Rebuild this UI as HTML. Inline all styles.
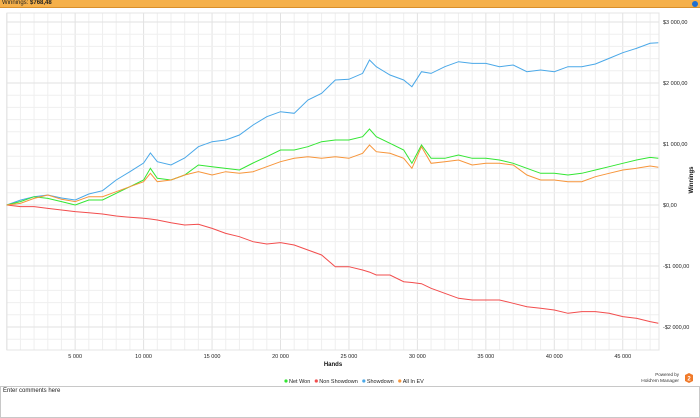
<!DOCTYPE html>
<html><head><meta charset="utf-8">
<style>
html,body{margin:0;padding:0;width:700px;height:418px;overflow:hidden;background:#fff;font-family:"Liberation Sans",sans-serif;}
#hdr{position:absolute;left:0;top:0;width:700px;height:7px;background:#f5b04a;border-bottom:1px solid #d98f2a;}
#hdr span{position:absolute;left:2px;top:0px;font-size:6px;line-height:7px;color:#222;}
#info{position:absolute;right:2px;top:0.5px;width:6px;height:6px;border-radius:50%;background:#1f6fd0;}
#cmt{position:absolute;left:0;top:386px;width:698px;height:30px;border:1px solid #c8c8c8;}
#cmt span{position:absolute;left:2px;top:1px;font-size:6px;color:#222;}
svg text{font-family:"Liberation Sans",sans-serif;}
</style></head><body>
<div id="hdr"><span>Winnings: <b>$768,48</b></span><div id="info"></div></div>
<svg id="chart" width="700" height="386" style="position:absolute;left:0;top:0"></svg>
<div id="cmt"><span>Enter comments here</span></div>
<script>
const hands=[0,1000,2000,3000,4000,5000,6000,7000,8000,9000,10000,10500,11000,12000,13000,14000,15000,16000,17000,18000,19000,20000,21000,22000,23000,24000,25000,26000,26500,27000,28000,29000,29600,30300,31000,32000,33000,34000,35000,36000,37000,38000,39000,40000,41000,42000,43000,44000,45000,46000,47000,47600];
const showdown=[0,80,136,164,115,82,180,234,410,546,688,852,710,656,770,956,1038,1066,1148,1311,1448,1530,1503,1721,1831,2050,2060,2158,2377,2267,2131,2049,1940,2185,2158,2267,2350,2322,2322,2267,2295,2185,2213,2185,2267,2267,2311,2404,2497,2568,2650,2660];
const netWon=[0,55,136,109,55,0,82,82,191,300,410,601,437,410,492,656,628,600,574,688,792,902,902,956,1038,1066,1066,1120,1246,1120,1011,902,683,984,765,765,820,765,765,738,683,601,519,519,492,519,574,628,683,738,781,765];
const allInEV=[0,27,109,164,93,55,136,136,218,300,382,519,382,410,492,546,492,546,519,546,628,710,765,792,765,792,765,847,984,874,847,765,601,956,683,710,738,656,683,683,656,492,410,410,382,382,464,519,574,601,640,618];
const nonShowdown=[0,-27,-27,-55,-82,-109,-126,-148,-180,-202,-218,-230,-246,-290,-328,-317,-383,-465,-519,-601,-639,-617,-656,-738,-820,-1011,-1011,-1066,-1100,-1148,-1148,-1257,-1270,-1290,-1366,-1448,-1530,-1557,-1557,-1557,-1612,-1667,-1694,-1721,-1776,-1748,-1748,-1776,-1830,-1858,-1912,-1940];
const xTicks=[5000,10000,15000,20000,25000,30000,35000,40000,45000];
const xTickLabels=["5 000","10 000","15 000","20 000","25 000","30 000","35 000","40 000","45 000"];
const yTicks=[3000,2000,1000,0,-1000,-2000];
const yTickLabels=["$3 000,00","$2 000,00","$1 000,00","$0,00","-$1 000,00","-$2 000,00"];
const seriesNames=["Net Won","Non Showdown","Showdown","All In EV"];
const seriesColors=["#33e633","#f24d4d","#4aa8e8","#f7953a"];

const svg=document.getElementById('chart');
const NS="http://www.w3.org/2000/svg";
const L=7,R=659,T=13,B=350;
const X=v=>6.7+v*0.013690;
const Y=v=>205-v*0.061;
function mk(tag,attrs){const e=document.createElementNS(NS,tag);for(const k in attrs)e.setAttribute(k,attrs[k]);svg.appendChild(e);return e;}
for(let h=0;X(h)<=R;h+=1000){const g=mk('line',{x1:X(h),x2:X(h),y1:T,y2:B,stroke:h%5000===0?'#e2e2e2':'#efefef','stroke-width':1});

}
for(let v=-2400;v<=3200;v+=200){const y=Y(v);if(y<T||y>B)continue;const g=mk('line',{x1:L,x2:R,y1:y,y2:y,stroke:v%1000===0?'#e2e2e2':'#efefef','stroke-width':1});

}
const fr=mk('rect',{x:L,y:T,width:R-L,height:B-T,fill:'none',stroke:'#e4e4e4'});


xTicks.forEach((t,i)=>{const e=mk('text',{x:X(t),y:358,'font-size':5.5,'text-anchor':'middle',fill:'#222'});e.textContent=xTickLabels[i];

});
yTicks.forEach((t,i)=>{const e=mk('text',{x:663,y:Y(t)+2,'font-size':5.5,fill:'#222'});e.textContent=yTickLabels[i];

});
const xt=mk('text',{x:333,y:366,'font-size':6,'font-weight':'bold','text-anchor':'middle',fill:'#111'});xt.textContent='Hands';


const yt=mk('text',{x:0,y:0,'font-size':6,'font-weight':'bold','text-anchor':'middle',fill:'#111',transform:'translate(693,180) rotate(-90)'});yt.textContent='Winnings';


const data=[netWon,nonShowdown,showdown,allInEV];
const order=[2,1,0,3];
const lineNames=['net-won-line','non-showdown-line','showdown-line','all-in-ev-line'];
order.forEach(i=>{const pts=hands.map((h,j)=>X(h).toFixed(1)+','+Y(data[i][j]).toFixed(1)).join(' ');
const p=mk('polyline',{points:pts,fill:'none',stroke:seriesColors[i],'stroke-width':1});

});
let lx=286;
seriesNames.forEach((n,i)=>{const c=mk('circle',{cx:lx,cy:381,r:1.6,fill:seriesColors[i]});


const t=mk('text',{x:lx+3,y:383,'font-size':5.5,fill:'#222'});t.textContent=n;


lx+=3+t.getComputedTextLength()+6;});
const p1=mk('text',{x:679,y:376,'font-size':4.5,'text-anchor':'end',fill:'#333'});p1.textContent='Powered by';


const p2=mk('text',{x:679,y:382,'font-size':4.8,'text-anchor':'end',fill:'#333'});p2.textContent="Hold'em Manager";


const lg=mk('polygon',{points:'685,375 689,373 693,375 693,381 689,383 685,381',fill:'#f07a2a'});


const lt=mk('text',{x:689,y:380.5,'font-size':6,'font-weight':'bold','text-anchor':'middle',fill:'#fff'});lt.textContent='2';


</script>
</body></html>
